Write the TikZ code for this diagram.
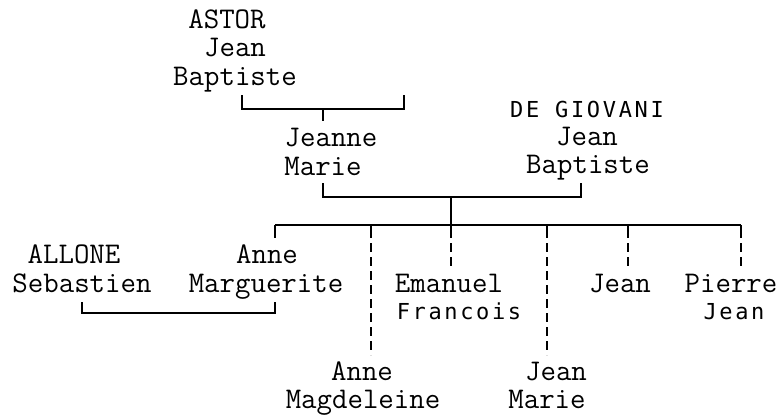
\documentclass[tikz,border=0pt]{standalone}
\usepackage{fontspec}
\newfontfamily\sansmonofont{DejaVu Sans Mono}[LetterSpace=12]
\newcommand\serifmono{\ttfamily\fontsize{30}{28}\selectfont\addfontfeature{LetterSpace=1.5,FakeBold=1.5}}
\newcommand\sansmono{\sansmonofont\fontsize{22}{28}\selectfont}
\tikzset{
  nm/.style={anchor=base, inner sep=0pt, font=\serifmono},
  ns/.style={anchor=base, inner sep=0pt, font=\sansmono},
  link/.style={line width=1.8pt},
  drop/.style={line width=1.6pt, dash pattern=on 9pt off 5pt, dash phase=-5pt}
}
\begin{document}
\begin{tikzpicture}[x=1pt,y=-1pt]
\useasboundingbox (0,0) rectangle (782,416);
% people
\node[nm] (astorA) at (227,28) {ASTOR};
\node[nm] (astorB) at (235,56) {Jean};
\node[nm] (astorC) at (235,85) {Baptiste};
\node[nm] (jeanneA) at (331,146) {Jeanne};
\node[nm] (jeanneB) at (323,175) {Marie};
\node[ns] (degA) at (587,117) {DE GIOVANI};
\node[nm] (degB) at (587,145) {Jean};
\node[nm] (degC) at (588,173) {Baptiste};
\node[nm] (alloneA) at (74,263) {ALLONE};
\node[nm] (alloneB) at (82,292) {Sebastien};
\node[nm] (annemA) at (267,263) {Anne};
\node[nm] (annemB) at (266,292) {Marguerite};
\node[nm] (emaA) at (449,292) {Emanuel};
\node[ns] (emaB) at (459,319) {Francois};
\node[nm] (jean) at (620,292) {Jean};
\node[nm] (pierreA) at (731,292) {Pierre};
\node[ns] (pierreB) at (734,319) {Jean};
\node[nm] (annedA) at (362,380) {Anne};
\node[nm] (annedB) at (363,408) {Magdeleine};
\node[nm] (jmA) at (556,380) {Jean};
\node[nm] (jmB) at (547,408) {Marie};
% connector points
\coordinate (p1l) at (242,95); \coordinate (p1r) at (404,95);
\coordinate (p1m) at (323,109); \coordinate (c1) at (323,121);
\coordinate (p2l) at (323,183); \coordinate (p2r) at (581,183);
\coordinate (p2m) at (451,197); \coordinate (c2) at (451,225);
\coordinate (sl) at (275,225); \coordinate (sr) at (741,225);
\coordinate (s1) at (82,302); \coordinate (s2) at (275,302);
% parents of Jeanne Marie
\draw[link] (p1l) -- (p1l |- p1m) -- (p1r |- p1m) -- (p1r);
\draw[link] (p1m) -- (c1);
% parents of children
\draw[link] (p2l) -- (p2l |- p2m) -- (p2r |- p2m) -- (p2r);
\draw[link] (p2m) -- (c2);
% sibling bar
\draw[link] (sl) -- (sr);
\foreach \x/\e in {275/238,371/238,451/238,547/238,628/238,741/238}
  \draw[link] (\x,225) -- (\x,\e);
\draw[drop] (371,238) -- (371,355);
\draw[drop] (451,238) -- (451,266);
\draw[drop] (547,238) -- (547,355);
\draw[drop] (628,238) -- (628,266);
\draw[drop] (741,238) -- (741,266);
% spouse link
\draw[link] (s1) -- (82,313) -- (275,313) -- (s2);
\end{tikzpicture}
\end{document}
